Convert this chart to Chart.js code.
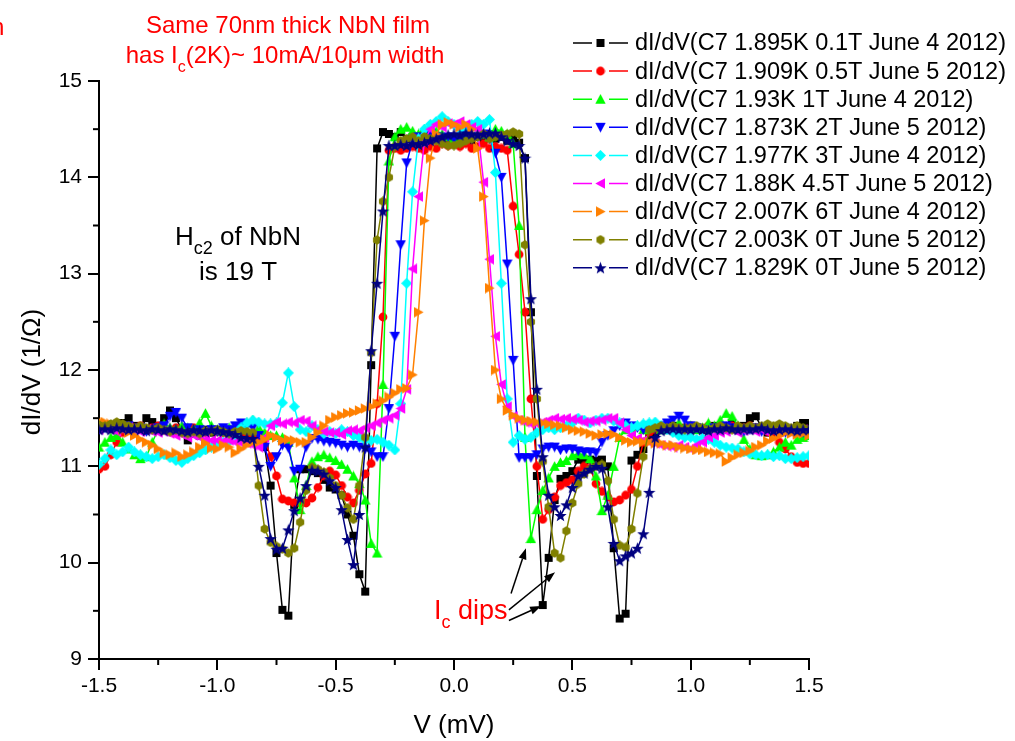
<!DOCTYPE html>
<html><head><meta charset="utf-8">
<script src="https://cdn.jsdelivr.net/npm/chart.js@4.4.1/dist/chart.umd.min.js"></script>
<style>html,body{margin:0;padding:0;background:#fff;}canvas{display:block;}</style>
</head><body>
<canvas id="c" width="1015" height="741"></canvas>
<script>
// ---------- DATA ----------
const voltage = [
-1.5,-1.475,-1.45,-1.425,-1.4,-1.375,-1.35,-1.325,-1.3,-1.275,
-1.25,-1.225,-1.2,-1.175,-1.15,-1.125,-1.1,-1.075,-1.05,-1.025,
-1.0,-0.975,-0.95,-0.925,-0.9,-0.875,-0.85,-0.825,-0.8,-0.775,
-0.75,-0.725,-0.7,-0.675,-0.65,-0.625,-0.6,-0.575,-0.55,-0.525,
-0.5,-0.475,-0.45,-0.425,-0.4,-0.375,-0.35,-0.325,-0.3,-0.275,
-0.25,-0.225,-0.2,-0.175,-0.15,-0.125,-0.1,-0.075,-0.05,-0.025,
0,0.025,0.05,0.075,0.1,0.125,0.15,0.175,0.2,0.225,
0.25,0.275,0.3,0.325,0.35,0.375,0.4,0.425,0.45,0.475,
0.5,0.525,0.55,0.575,0.6,0.625,0.65,0.675,0.7,0.725,
0.75,0.775,0.8,0.825,0.85,0.875,0.9,0.925,0.95,0.975,
1.0,1.025,1.05,1.075,1.1,1.125,1.15,1.175,1.2,1.225,
1.25,1.275,1.3,1.325,1.35,1.375,1.4,1.425,1.45,1.475,
1.5];

const s1895K_01T = [
11.42,11.43,11.40,11.38,11.45,11.50,11.42,11.38,11.50,11.46,
11.42,11.50,11.58,11.50,11.38,11.27,11.34,11.32,11.38,11.35,
11.38,11.36,11.34,11.38,11.35,11.33,11.30,11.30,11.20,10.80,
10.10,9.51,9.45,10.60,10.97,10.97,10.95,10.93,10.86,10.78,
10.76,10.70,10.50,10.28,9.88,9.70,12.05,14.30,14.47,14.45,
14.42,14.47,14.40,14.42,14.40,14.45,14.38,14.42,14.40,14.38,
14.42,14.40,14.45,14.38,14.42,14.40,14.45,14.40,14.42,14.38,
14.40,14.36,14.20,12.60,10.90,9.56,10.05,10.65,10.87,10.90,
10.95,11.07,11.06,11.07,11.06,11.07,11.00,10.15,9.42,9.47,
11.06,11.12,11.18,11.30,11.35,11.38,11.40,11.42,11.38,11.40,
11.42,11.40,11.38,11.40,11.42,11.40,11.38,11.45,11.40,11.42,
11.50,11.52,11.40,11.35,11.38,11.42,11.40,11.38,11.42,11.45,
11.45];

const s1909K_05T = [
10.97,11.00,11.12,11.25,11.35,11.38,11.40,11.42,11.38,11.40,
11.42,11.40,11.38,11.40,11.36,11.38,11.40,11.37,11.35,11.38,
11.36,11.35,11.38,11.36,11.33,11.35,11.32,11.30,11.28,11.10,
10.90,10.66,10.64,10.62,10.62,10.62,10.67,10.78,10.90,10.95,
10.91,10.80,10.68,10.62,10.75,10.92,11.03,11.65,12.55,14.28,
14.30,14.28,14.30,14.32,14.30,14.28,14.32,14.30,14.35,14.33,
14.35,14.32,14.35,14.30,14.32,14.35,14.30,14.32,14.30,14.28,
13.70,13.20,12.60,11.70,11.00,10.45,10.55,10.68,10.80,10.83,
10.86,10.95,11.00,10.98,10.82,10.74,10.68,10.63,10.65,10.70,
10.76,11.00,11.25,11.35,11.38,11.40,11.42,11.40,11.38,11.40,
11.42,11.40,11.38,11.42,11.40,11.38,11.40,11.42,11.38,11.40,
11.42,11.40,11.38,11.36,11.32,11.25,11.18,11.10,11.04,11.03,
11.03];

const s193K_1T = [
11.20,11.25,11.30,11.32,11.25,11.18,11.12,11.08,11.10,11.25,
11.38,11.44,11.40,11.38,11.42,11.40,11.38,11.45,11.55,11.42,
11.38,11.36,11.40,11.38,11.42,11.45,11.48,11.40,11.35,11.32,
11.32,11.30,11.25,10.88,10.55,10.80,11.05,11.10,11.12,11.09,
11.06,11.02,10.97,10.90,10.82,10.65,10.20,10.10,11.85,14.17,
14.42,14.50,14.52,14.48,14.45,14.50,14.52,14.48,14.45,14.42,
14.40,14.38,14.42,14.45,14.48,14.45,14.42,14.50,14.48,14.45,
14.35,13.50,11.30,10.25,10.55,10.75,10.88,11.00,11.04,11.06,
11.11,11.13,11.12,11.08,10.90,10.54,10.70,11.00,11.30,11.38,
11.40,11.42,11.38,11.40,11.42,11.38,11.40,11.42,11.45,11.40,
11.42,11.38,11.40,11.45,11.42,11.48,11.55,11.52,11.42,11.28,
11.18,11.12,11.11,11.12,11.15,11.20,11.25,11.22,11.28,11.30,
11.32];

const s1873K_2T = [
11.38,11.40,11.42,11.38,11.40,11.42,11.38,11.40,11.36,11.38,
11.40,11.42,11.52,11.56,11.50,11.40,11.35,11.38,11.36,11.38,
11.36,11.40,11.38,11.42,11.45,11.43,11.40,11.32,11.20,11.00,
11.10,11.22,11.19,10.95,10.97,11.20,11.29,11.28,11.26,11.25,
11.24,11.22,11.20,11.22,11.20,11.18,11.15,11.10,11.10,11.60,
12.35,13.30,14.15,14.38,14.42,14.40,14.45,14.42,14.40,14.42,
14.40,14.42,14.45,14.40,14.42,14.45,14.40,14.25,14.00,13.10,
12.10,11.09,11.09,11.09,11.12,11.18,11.20,11.20,11.17,11.18,
11.18,11.16,11.15,11.15,11.14,11.25,11.32,11.37,11.42,11.45,
11.42,11.40,11.38,11.42,11.40,11.42,11.45,11.48,11.52,11.48,
11.42,11.40,11.38,11.36,11.40,11.38,11.42,11.40,11.38,11.36,
11.38,11.40,11.36,11.38,11.40,11.36,11.35,11.38,11.36,11.35,
11.35];

const s1977K_3T = [
11.02,11.08,11.17,11.12,11.15,11.20,11.15,11.12,11.10,11.08,
11.10,11.12,11.09,11.06,11.04,11.08,11.11,11.14,11.17,11.20,
11.24,11.25,11.26,11.32,11.40,11.45,11.48,11.46,11.44,11.44,
11.45,11.66,11.97,11.62,11.38,11.36,11.42,11.38,11.34,11.36,
11.34,11.38,11.36,11.32,11.30,11.27,11.27,11.28,11.25,11.22,
11.17,11.65,12.90,13.85,14.40,14.50,14.55,14.58,14.63,14.58,
14.55,14.50,14.52,14.55,14.58,14.55,14.60,14.05,12.90,11.70,
11.25,11.32,11.28,11.30,11.35,11.38,11.40,11.38,11.40,11.42,
11.45,11.50,11.48,11.45,11.48,11.50,11.50,11.47,11.45,11.42,
11.40,11.42,11.44,11.45,11.46,11.42,11.38,11.35,11.32,11.30,
11.30,11.28,11.29,11.28,11.25,11.22,11.20,11.19,11.18,11.15,
11.13,11.12,11.11,11.12,11.10,11.11,11.08,11.08,11.09,11.10,
11.11];

const s188K_45T = [
11.38,11.40,11.38,11.36,11.38,11.40,11.38,11.36,11.38,11.36,
11.35,11.36,11.34,11.32,11.33,11.30,11.32,11.30,11.28,11.27,
11.27,11.26,11.27,11.25,11.24,11.24,11.22,11.20,11.30,11.42,
11.46,11.44,11.46,11.45,11.48,11.47,11.42,11.38,11.36,11.35,
11.35,11.33,11.37,11.38,11.37,11.40,11.42,11.45,11.48,11.50,
11.53,11.60,11.80,13.05,13.80,14.38,14.50,14.55,14.52,14.56,
14.55,14.58,14.55,14.52,14.50,13.95,13.15,12.35,11.85,11.62,
11.52,11.48,11.46,11.44,11.44,11.46,11.48,11.50,11.49,11.50,
11.49,11.48,11.46,11.47,11.47,11.48,11.50,11.50,11.45,11.38,
11.32,11.29,11.27,11.25,11.24,11.22,11.21,11.20,11.22,11.20,
11.18,11.22,11.25,11.30,11.32,11.35,11.36,11.38,11.35,11.37,
11.38,11.36,11.38,11.35,11.37,11.36,11.38,11.35,11.36,11.38,
11.37];

const s2007K_6T = [
11.47,11.46,11.44,11.42,11.38,11.35,11.32,11.28,11.25,11.22,
11.18,11.14,11.12,11.14,11.10,11.12,11.15,11.20,11.24,11.19,
11.18,11.22,11.20,11.14,11.18,11.22,11.25,11.25,11.28,11.32,
11.30,11.27,11.28,11.27,11.25,11.25,11.30,11.35,11.42,11.48,
11.51,11.53,11.55,11.56,11.58,11.60,11.62,11.65,11.68,11.72,
11.76,11.80,11.81,11.95,12.60,13.55,14.20,14.45,14.55,14.57,
14.55,14.52,14.55,14.50,14.30,13.80,12.85,12.00,11.70,11.58,
11.53,11.50,11.48,11.47,11.46,11.45,11.44,11.43,11.42,11.40,
11.38,11.37,11.36,11.34,11.32,11.33,11.34,11.33,11.30,11.27,
11.25,11.26,11.25,11.25,11.24,11.24,11.22,11.22,11.20,11.19,
11.18,11.17,11.17,11.15,11.14,11.13,11.05,11.09,11.12,11.14,
11.16,11.20,11.22,11.26,11.29,11.32,11.35,11.34,11.33,11.34,
11.32];

const s2003K_0T = [
11.43,11.42,11.44,11.46,11.44,11.42,11.40,11.42,11.40,11.38,
11.40,11.38,11.36,11.38,11.35,11.34,11.36,11.34,11.37,11.36,
11.38,11.36,11.34,11.36,11.37,11.36,11.35,10.80,10.35,10.21,
10.17,10.14,10.10,10.15,10.42,10.75,10.99,10.97,10.94,10.88,
10.80,10.70,10.57,10.45,10.80,11.30,12.18,13.35,13.75,14.00,
14.32,14.38,14.40,14.42,14.38,14.42,14.40,14.38,14.35,14.33,
14.33,14.35,14.38,14.40,14.42,14.45,14.40,14.42,14.44,14.45,
14.47,14.45,13.30,12.50,11.70,11.05,10.58,10.10,10.05,10.33,
10.62,10.82,10.92,10.97,11.00,11.02,10.85,10.45,10.18,10.16,
10.35,10.72,11.10,11.38,11.40,11.42,11.40,11.42,11.40,11.38,
11.40,11.42,11.40,11.38,11.40,11.42,11.40,11.38,11.42,11.40,
11.42,11.40,11.42,11.44,11.42,11.44,11.42,11.40,11.42,11.40,
11.38];

const s1829K_0T = [
11.38,11.39,11.38,11.40,11.39,11.38,11.39,11.38,11.37,11.39,
11.38,11.37,11.39,11.38,11.37,11.36,11.38,11.37,11.36,11.38,
11.37,11.36,11.35,11.33,11.30,11.29,11.29,11.00,10.70,10.25,
10.14,10.15,10.34,10.54,10.67,10.80,10.96,10.95,10.92,10.85,
10.78,10.55,10.24,9.98,10.50,11.20,12.20,12.90,13.65,14.33,
14.33,14.34,14.33,14.35,14.34,14.36,14.38,14.40,14.42,14.44,
14.45,14.44,14.46,14.45,14.44,14.45,14.46,14.46,14.42,14.38,
14.35,14.33,14.20,12.74,11.80,11.10,10.70,10.58,10.49,10.60,
10.78,10.90,10.93,10.97,11.00,10.98,10.58,10.20,10.02,10.07,
10.10,10.15,10.30,10.73,11.30,11.37,11.38,11.39,11.38,11.39,
11.38,11.39,11.38,11.37,11.39,11.38,11.40,11.39,11.38,11.39,
11.38,11.39,11.40,11.38,11.37,11.38,11.39,11.38,11.37,11.38,
11.38];

const seriesValues = [s1895K_01T, s1909K_05T, s193K_1T, s1873K_2T, s1977K_3T, s188K_45T, s2007K_6T, s2003K_0T, s1829K_0T];
const seriesLabels = [
 'dI/dV(C7 1.895K 0.1T June 4 2012)',
 'dI/dV(C7 1.909K 0.5T June 5 2012)',
 'dI/dV(C7 1.93K 1T June 4 2012)',
 'dI/dV(C7 1.873K 2T June 5 2012)',
 'dI/dV(C7 1.977K 3T June 4 2012)',
 'dI/dV(C7 1.88K 4.5T June 5 2012)',
 'dI/dV(C7 2.007K 6T June 4 2012)',
 'dI/dV(C7 2.003K 0T June 5 2012)',
 'dI/dV(C7 1.829K 0T June 5 2012)'];
const xMinorTicks = [-1.25,-0.75,-0.25,0.25,0.75,1.25];
const yMinorTicks = [9.5,10.5,11.5,12.5,13.5,14.5];
// arrows for "Ic dips": [tailV, tailY, headV, headY]
const dipArrows = [[0.241,9.68,0.304,10.15],[0.232,9.51,0.427,9.90],[0.232,9.40,0.368,9.55]];

// ---------- STYLE ----------
const FONT = "'Liberation Sans', Arial, Helvetica, sans-serif";
const colors = ['#000000','#ff0000','#00ff00','#0000ff','#00ffff','#ff00ff','#ff8000','#808000','#000080'];
const shapes = ['square','circle','up','down','diamond','left','right','hex','star'];
const msizes = [10,10,11,11,11,11,11,10,13];

function mk(shape, color, s){
  const c = document.createElement('canvas'); c.width = s; c.height = s;
  const g = c.getContext('2d'); g.fillStyle = color; const h = s/2;
  g.beginPath();
  switch(shape){
    case 'square': g.rect(1,1,s-2,s-2); break;
    case 'circle': g.arc(h,h,h-0.6,0,2*Math.PI); break;
    case 'up': g.moveTo(h,0.3); g.lineTo(s-0.3,s-1); g.lineTo(0.3,s-1); break;
    case 'down': g.moveTo(0.3,1); g.lineTo(s-0.3,1); g.lineTo(h,s-0.3); break;
    case 'left': g.moveTo(0.3,h); g.lineTo(s-1,0.3); g.lineTo(s-1,s-0.3); break;
    case 'right': g.moveTo(s-0.3,h); g.lineTo(1,0.3); g.lineTo(1,s-0.3); break;
    case 'diamond': g.moveTo(h,0); g.lineTo(s,h); g.lineTo(h,s); g.lineTo(0,h); break;
    case 'hex': for(let k=0;k<6;k++){const a=Math.PI/6+k*Math.PI/3; const px=h+(h-0.3)*Math.cos(a), py=h+(h-0.3)*Math.sin(a); k?g.lineTo(px,py):g.moveTo(px,py);} break;
    case 'star': for(let k=0;k<10;k++){const r=(k%2)?h*0.42:h; const a=-Math.PI/2+k*Math.PI/5; const px=h+r*Math.cos(a), py=h+0.6+r*Math.sin(a); k?g.lineTo(px,py):g.moveTo(px,py);} break;
  }
  g.closePath(); g.fill(); return c;
}
const markers = shapes.map((s,i)=>mk(s,colors[i],msizes[i]));

const datasets = seriesValues.map((ys,i)=>({
  label: seriesLabels[i],
  data: voltage.map((v,j)=>({x:v, y:ys[j]})),
  showLine: true,
  borderColor: colors[i], backgroundColor: colors[i], borderWidth: 1.5,
  pointStyle: markers[i], pointRadius: 5, pointHoverRadius: 5,
  tension: 0, order: 9-i
}));

function rich(ctx, parts, x, y, align){
  let total = 0;
  parts.forEach(p=>{ctx.font = p.size+'px '+FONT; p.w = ctx.measureText(p.t).width; total += p.w;});
  let cx = align==='center' ? x-total/2 : x;
  ctx.textAlign = 'left'; ctx.textBaseline = 'alphabetic';
  parts.forEach(p=>{ctx.font = p.size+'px '+FONT; ctx.fillText(p.t, cx, y+(p.dy||0)); cx += p.w;});
}

const deco = {
  id: 'deco',
  afterDraw(chart){
    const ctx = chart.ctx, xs = chart.scales.x, ys = chart.scales.y;
    ctx.save();
    // minor ticks
    ctx.strokeStyle = '#000'; ctx.lineWidth = 2;
    xMinorTicks.forEach(v=>{const p=xs.getPixelForValue(v); ctx.beginPath(); ctx.moveTo(p, ys.bottom); ctx.lineTo(p, ys.bottom+6); ctx.stroke();});
    yMinorTicks.forEach(v=>{const p=ys.getPixelForValue(v); ctx.beginPath(); ctx.moveTo(xs.left, p); ctx.lineTo(xs.left-6, p); ctx.stroke();});

    // axis titles
    ctx.fillStyle = '#000';
    ctx.font = '26px '+FONT; ctx.textAlign='center'; ctx.textBaseline='alphabetic';
    ctx.fillText('V (mV)', (xs.left+xs.right)/2, 733);
    ctx.save(); ctx.translate(40, 372); ctx.rotate(-Math.PI/2);
    ctx.fillText('dI/dV (1/\u03A9)', 0, 0); ctx.restore();

    // annotations
    ctx.fillStyle = '#ff0000';
    rich(ctx,[{t:'Same 70nm thick NbN film',size:24}], 288, 33, 'center');
    rich(ctx,[{t:'has I',size:24},{t:'c',size:16,dy:9},{t:'(2K)~ 10mA/10\u03BCm width',size:24}], 285, 63, 'center');
    ctx.font = '24px '+FONT; ctx.textAlign='left'; ctx.fillText('n', -9, 35);
    rich(ctx,[{t:'I',size:27},{t:'c',size:18,dy:9},{t:' dips',size:27}], 434, 619, 'left');
    ctx.fillStyle = '#000';
    rich(ctx,[{t:'H',size:26},{t:'c2',size:18,dy:9},{t:' of NbN',size:26}], 175, 245, 'left');
    rich(ctx,[{t:'is 19 T',size:26}], 238, 280, 'center');

    // arrows
    ctx.strokeStyle = '#000'; ctx.fillStyle = '#000'; ctx.lineWidth = 1.5;
    dipArrows.forEach(a=>{
      const x1=xs.getPixelForValue(a[0]), y1=ys.getPixelForValue(a[1]);
      const x2=xs.getPixelForValue(a[2]), y2=ys.getPixelForValue(a[3]);
      const ang=Math.atan2(y2-y1,x2-x1), L=11, W=4;
      const bx=x2-L*Math.cos(ang), by=y2-L*Math.sin(ang);
      ctx.beginPath(); ctx.moveTo(x1,y1); ctx.lineTo(bx,by); ctx.stroke();
      ctx.beginPath(); ctx.moveTo(x2,y2);
      ctx.lineTo(bx+W*Math.sin(ang), by-W*Math.cos(ang));
      ctx.lineTo(bx-W*Math.sin(ang), by+W*Math.cos(ang));
      ctx.closePath(); ctx.fill();
    });

    // legend
    ctx.font = '23.5px '+FONT; ctx.textAlign='left'; ctx.textBaseline='middle';
    seriesLabels.forEach((lab,i)=>{
      const y = 43 + 28.1*i;
      ctx.strokeStyle = colors[i]; ctx.lineWidth = 1.5;
      ctx.beginPath(); ctx.moveTo(573,y); ctx.lineTo(592,y); ctx.moveTo(609,y); ctx.lineTo(628,y); ctx.stroke();
      const m = markers[i]; ctx.drawImage(m, 600.5-m.width/2, y-m.height/2);
      ctx.fillStyle = '#000'; ctx.fillText(lab, 635, y+1);
    });
    ctx.restore();
  }
};

new Chart(document.getElementById('c'), {
  type: 'scatter',
  data: { datasets },
  options: {
    responsive: false, animation: false, devicePixelRatio: 1,
    layout: { padding: { left: 0, top: 81, right: 206, bottom: 0 } },
    plugins: { legend: { display: false }, tooltip: { enabled: false } },
    scales: {
      x: {
        type: 'linear', min: -1.5, max: 1.5,
        border: { display: true, color: '#000', width: 2 },
        grid: { display: true, drawOnChartArea: false, drawTicks: true, tickLength: 11, color: '#000', lineWidth: 2 },
        ticks: { stepSize: 0.5, autoSkip: false, maxRotation: 0, color: '#000', padding: 4,
                 font: { family: FONT, size: 21 }, callback: v => Number(v).toFixed(1) },
        afterFit: s => { s.height = 82; }
      },
      y: {
        type: 'linear', min: 9, max: 15,
        border: { display: true, color: '#000', width: 2 },
        grid: { display: true, drawOnChartArea: false, drawTicks: true, tickLength: 11, color: '#000', lineWidth: 2 },
        ticks: { stepSize: 1, color: '#000', padding: 6, font: { family: FONT, size: 21 },
                 callback: v => String(v) },
        afterFit: s => { s.width = 99; }
      }
    }
  },
  plugins: [deco]
});
</script>
</body></html>
